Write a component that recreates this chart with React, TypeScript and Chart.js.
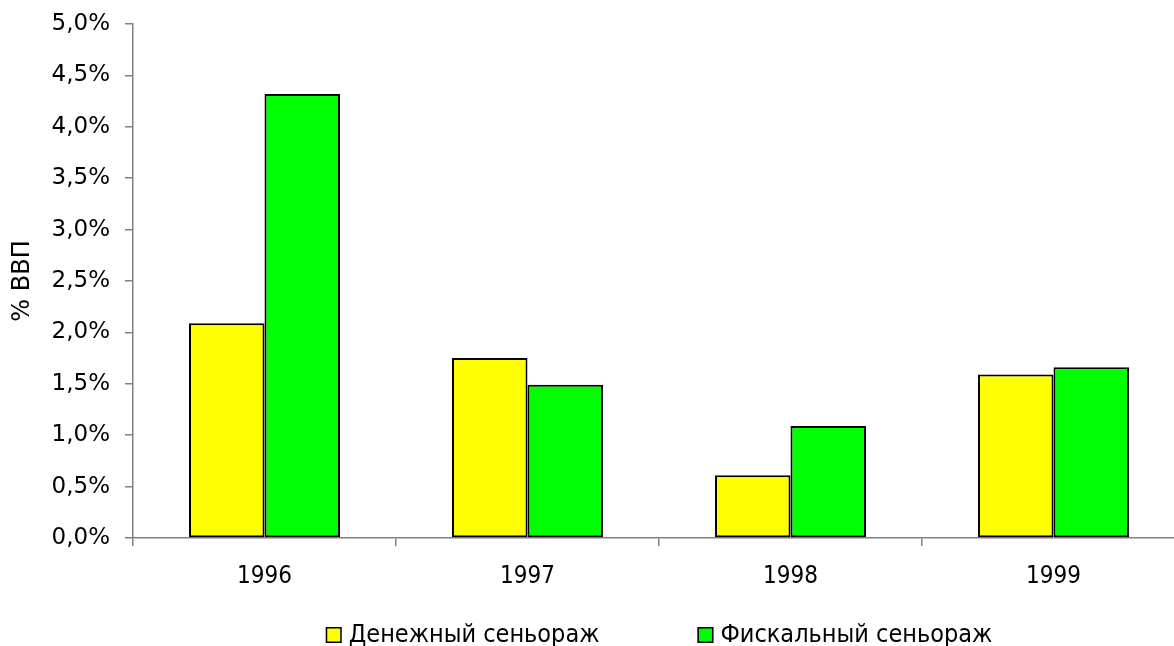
import React, { useEffect, useRef } from "react";
import { Chart, registerables } from "chart.js";

Chart.register(...registerables);

const categories = ["1996", "1997", "1998", "1999"];
const monetarySeigniorage = [2.09, 1.75, 0.61, 1.59];
const fiscalSeigniorage = [4.32, 1.49, 1.09, 1.66];
const seriesLabels = ["Денежный сеньораж", "Фискальный сеньораж"];
const seriesColors = ["#FFFF00", "#00FF00"];
const yAxisTitle = "% ВВП";

const FONT = '"DejaVu Sans Condensed", "DejaVu Sans", sans-serif';
const FONT_WIDE = '"DejaVu Sans", sans-serif';

const legendPlugin = {
  id: "customLegend",
  afterDraw(chart: any) {
    const ctx = chart.ctx;
    const size = 25;
    const box = 16;
    const gap = 7;
    const itemGap = 98;
    ctx.save();
    ctx.font = `${size}px ${FONT}`;
    ctx.textBaseline = "middle";
    ctx.textAlign = "left";
    const items = chart.data.datasets.map((ds: any) => ({
      ds,
      w: ctx.measureText(ds.label).width,
    }));
    const total =
      items.reduce((s: number, it: any) => s + box + gap + it.w, 0) +
      itemGap * (items.length - 1);
    const area = chart.chartArea;
    let x = (area.left + area.right) / 2 - total / 2;
    const y = 635;
    items.forEach((it: any) => {
      ctx.fillStyle = it.ds.backgroundColor;
      ctx.fillRect(x, y - box / 2, box, box);
      ctx.lineWidth = 1.5;
      ctx.strokeStyle = "#000";
      ctx.strokeRect(x + 0.75, y - box / 2 + 0.75, box - 1.5, box - 1.5);
      ctx.fillStyle = "#000";
      ctx.fillText(it.ds.label, x + box + gap, y);
      x += box + gap + it.w + itemGap;
    });
    ctx.restore();
  },
};

export default function App() {
  const ref = useRef<HTMLCanvasElement>(null);
  useEffect(() => {
    if (!ref.current) return;
    const chart = new Chart(ref.current, {
      type: "bar",
      data: {
        labels: categories,
        datasets: [
          {
            label: seriesLabels[0],
            data: monetarySeigniorage,
            backgroundColor: seriesColors[0],
            borderColor: "#000",
            borderWidth: 2,
            borderSkipped: false,
          },
          {
            label: seriesLabels[1],
            data: fiscalSeigniorage,
            backgroundColor: seriesColors[1],
            borderColor: "#000",
            borderWidth: 2,
            borderSkipped: false,
          },
        ],
      },
      options: {
        responsive: false,
        animation: false,
        devicePixelRatio: 1,
        layout: { padding: { left: 0, right: 15, top: 24, bottom: 0 } },
        datasets: {
          bar: { categoryPercentage: 0.574, barPercentage: 1 },
        },
        plugins: {
          legend: { display: false },
          tooltip: { enabled: false },
        },
        scales: {
          x: {
            grid: {
              display: true,
              drawOnChartArea: false,
              drawTicks: true,
              tickLength: 8,
              color: "#808080",
              lineWidth: 1.5,
              offset: true,
            },
            border: { display: true, color: "#808080", width: 1.5 },
            ticks: {
              color: "#000",
              font: { family: FONT, size: 24 },
              padding: 16,
              maxRotation: 0,
            },
            afterFit: (scale: any) => {
              scale.height = 108;
            },
          },
          y: {
            min: 0,
            max: 5,
            grid: {
              display: true,
              drawOnChartArea: false,
              drawTicks: true,
              tickLength: 8,
              color: "#808080",
              lineWidth: 1.5,
            },
            border: { display: true, color: "#808080", width: 1.5 },
            ticks: {
              stepSize: 0.5,
              color: "#000",
              font: { family: FONT_WIDE, size: 23 },
              padding: 15,
              callback: (v: any) => Number(v).toFixed(1).replace(".", ",") + "%",
            },
            title: {
              display: true,
              text: yAxisTitle,
              color: "#000",
              font: { family: FONT_WIDE, size: 24 },
              padding: { top: 8, bottom: 0 },
            },
            afterFit: (scale: any) => {
              scale.width = 133;
              scale.paddingTop = 14;
              scale.paddingBottom = 14;
            },
          },
        },
      },
      plugins: [legendPlugin],
    });
    return () => chart.destroy();
  }, []);
  return (
    <div
      style={{
        position: "fixed",
        left: 0,
        top: 0,
        width: 1174,
        height: 646,
        overflow: "hidden",
        background: "#fff",
      }}
    >
      <canvas ref={ref} width={1200} height={646} style={{ display: "block" }} />
    </div>
  );
}
